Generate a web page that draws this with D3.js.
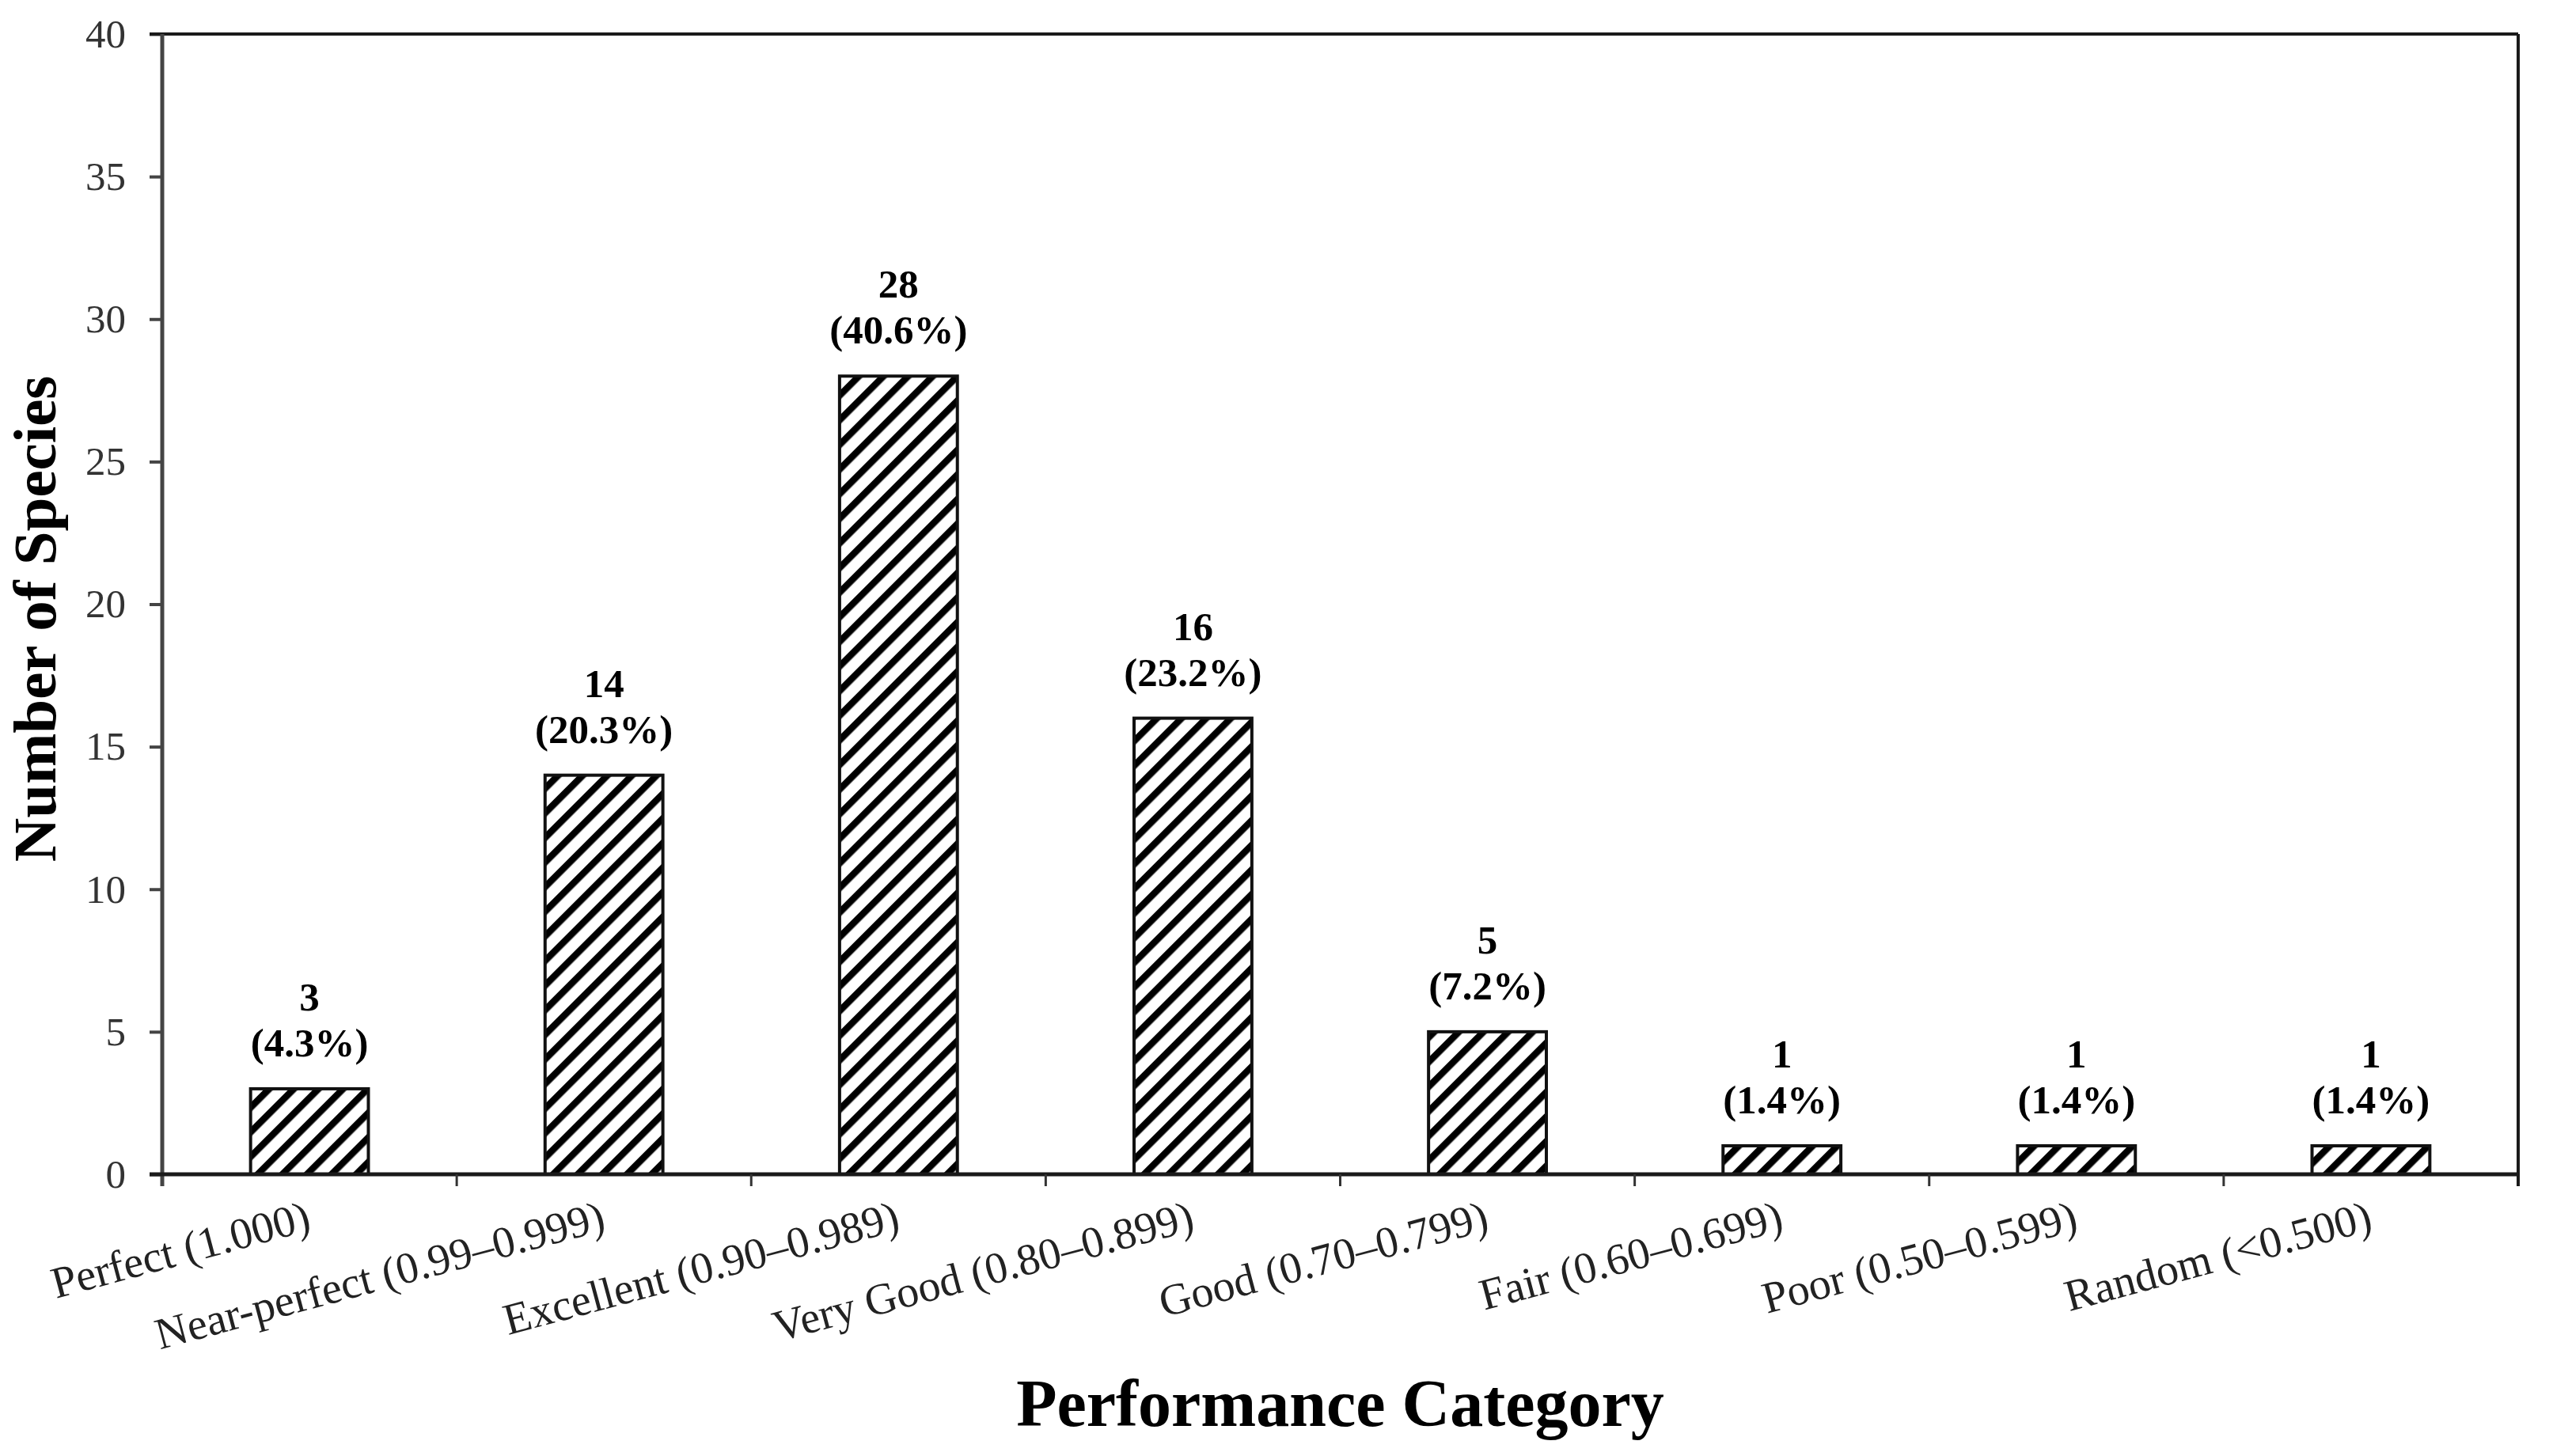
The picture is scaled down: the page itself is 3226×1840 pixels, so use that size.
<!DOCTYPE html>
<html>
<head>
<meta charset="utf-8">
<script src="https://cdn.jsdelivr.net/npm/d3@7.9.0/dist/d3.min.js"></script>
<style>
  body { margin: 0; background: #fff; }
  svg { display: block; font-family: "Liberation Serif", "Times New Roman", serif; }
</style>
</head>
<body>
<svg id="chart" width="3226" height="1840"></svg>
<script>
// data
const categories = [
  'Perfect (1.000)',
  'Near-perfect (0.99\u20130.999)',
  'Excellent (0.90\u20130.989)',
  'Very Good (0.80\u20130.899)',
  'Good (0.70\u20130.799)',
  'Fair (0.60\u20130.699)',
  'Poor (0.50\u20130.599)',
  'Random (<0.500)'
];
const species = [3, 14, 28, 16, 5, 1, 1, 1];
const percentLabels = ['4.3%', '20.3%', '40.6%', '23.2%', '7.2%', '1.4%', '1.4%', '1.4%'];
const yTicks = [0, 5, 10, 15, 20, 25, 30, 35, 40];

const margin = { top: 43, right: 44, bottom: 356, left: 205 };
const svg = d3.select('#chart');
const W = +svg.attr('width') - margin.left - margin.right;
const H = +svg.attr('height') - margin.top - margin.bottom;

// diagonal hatch fill
const defs = svg.append('defs');
const pat = defs.append('pattern')
  .attr('id', 'hatch')
  .attr('patternUnits', 'userSpaceOnUse')
  .attr('width', 22)
  .attr('height', 22)
  .attr('patternTransform', 'rotate(45)');
pat.append('rect').attr('width', 22).attr('height', 22).attr('fill', '#fff');
pat.append('rect').attr('width', 8.5).attr('height', 22).attr('fill', '#000');

const g = svg.append('g').attr('transform', `translate(${margin.left},${margin.top})`);

let x = d3.scaleBand().domain(categories).range([0, W]).paddingInner(0.6).paddingOuter(0.3);
let y = d3.scaleLinear().domain([0, 40]).range([H, 0]);

// y axis
let yAxis = g.append('g')
  .call(d3.axisLeft(y).tickValues(yTicks).tickSize(16).tickSizeOuter(0).tickPadding(30));
yAxis.select('.domain').remove();
yAxis.selectAll('.tick line').attr('stroke', '#444').attr('stroke-width', 4);
yAxis.selectAll('.tick text')
  .attr('font-size', 51)
  .attr('fill', '#333')
  .attr('font-family', '"Liberation Serif", serif');

// bars
g.selectAll('rect.bar')
  .data(species)
  .enter()
  .append('rect')
  .attr('class', 'bar')
  .attr('x', (d, i) => x(categories[i]))
  .attr('y', d => y(d))
  .attr('width', x.bandwidth())
  .attr('height', d => H - y(d))
  .attr('fill', 'url(#hatch)')
  .attr('stroke', '#111')
  .attr('stroke-width', 4);

// frame: top and right lines, left axis, baseline
g.append('line').attr('x1', -16).attr('x2', W).attr('y1', 0).attr('y2', 0)
  .attr('stroke', '#1a1a1a').attr('stroke-width', 4);
g.append('line').attr('x1', W).attr('x2', W).attr('y1', 0).attr('y2', H + 15)
  .attr('stroke', '#1a1a1a').attr('stroke-width', 4);
g.append('line').attr('x1', 0).attr('x2', 0).attr('y1', 0).attr('y2', H + 15)
  .attr('stroke', '#444').attr('stroke-width', 5);
g.append('line').attr('x1', -16).attr('x2', W).attr('y1', H).attr('y2', H)
  .attr('stroke', '#1a1a1a').attr('stroke-width', 5);

// category separator ticks under the baseline
let gap = x.step() - x.bandwidth();
let bounds = categories.map(c => x(c) - gap / 2).slice(1);
g.selectAll('line.xtick')
  .data(bounds)
  .enter()
  .append('line')
  .attr('class', 'xtick')
  .attr('x1', d => d).attr('x2', d => d)
  .attr('y1', H).attr('y2', H + 15)
  .attr('stroke', '#333').attr('stroke-width', 3);

// rotated category labels
g.selectAll('text.cat')
  .data(categories)
  .enter()
  .append('text')
  .attr('class', 'cat')
  .attr('transform', d => `translate(${x(d) + x.bandwidth() / 2 + 4},${H + 70}) rotate(-15)`)
  .attr('text-anchor', 'end')
  .attr('font-size', 56)
  .attr('fill', '#222')
  .text(d => d);

// value labels above bars (count on one line, share below)
let labels = g.selectAll('text.vlabel')
  .data(species)
  .enter()
  .append('text')
  .attr('class', 'vlabel')
  .attr('transform', (d, i) => `translate(${x(categories[i]) + x.bandwidth() / 2},${y(d)})`)
  .attr('text-anchor', 'middle')
  .attr('font-size', 51)
  .attr('font-weight', 'bold');
labels.append('tspan')
  .attr('x', 0)
  .attr('y', -99)
  .text(d => d);
labels.append('tspan')
  .attr('x', 0)
  .attr('y', -41)
  .text((d, i) => `(${percentLabels[i]})`);

// axis titles
svg.append('text')
  .attr('transform', `translate(70,782) rotate(-90)`)
  .attr('text-anchor', 'middle')
  .attr('font-size', 77)
  .attr('font-weight', 'bold')
  .text('Number of Species');

svg.append('text')
  .attr('x', margin.left + W / 2)
  .attr('y', 1802)
  .attr('text-anchor', 'middle')
  .attr('font-size', 84)
  .attr('font-weight', 'bold')
  .text('Performance Category');
</script>
</body>
</html>
